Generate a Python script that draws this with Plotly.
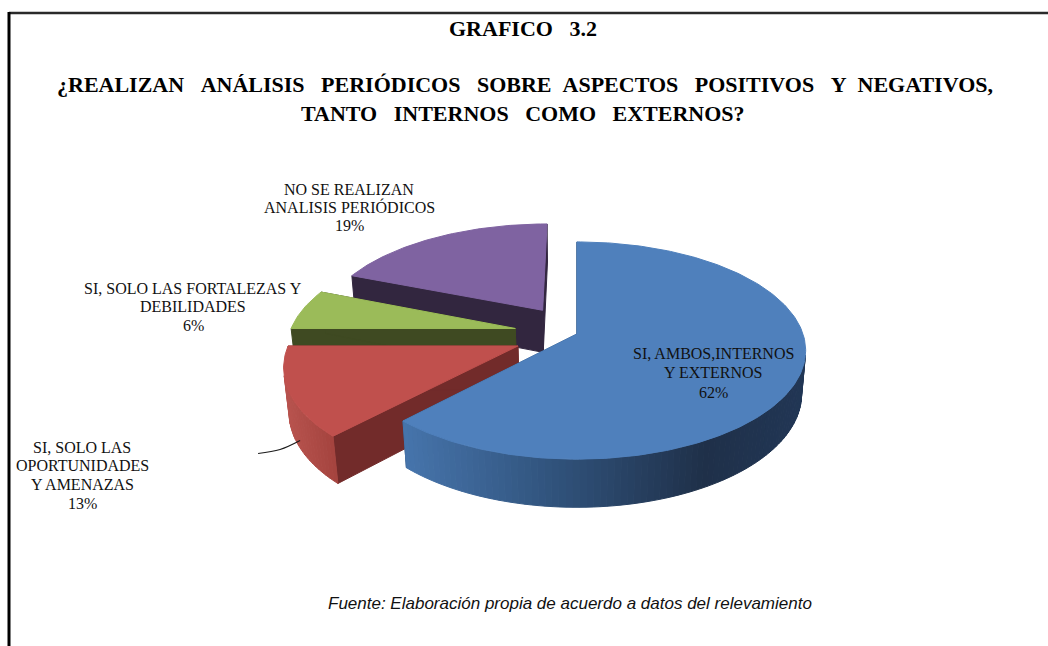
import numpy as np
import plotly.graph_objects as go

# ---------------- data ----------------
categories = ["SI, AMBOS,INTERNOS Y EXTERNOS",
              "SI, SOLO LAS OPORTUNIDADES Y AMENAZAS",
              "SI, SOLO LAS FORTALEZAS Y DEBILIDADES",
              "NO SE REALIZAN ANALISIS PERIÓDICOS"]
label_lines = [["SI, AMBOS,INTERNOS", "Y EXTERNOS"],
               ["SI, SOLO LAS", "OPORTUNIDADES", "Y AMENAZAS"],
               ["SI, SOLO LAS FORTALEZAS Y", "DEBILIDADES"],
               ["NO SE REALIZAN", "ANALISIS PERIÓDICOS"]]
values = [62, 13, 6, 19]

NB2 = "\u00a0\u00a0"
NB3 = "\u00a0\u00a0\u00a0"
title_text = "GRAFICO" + NB3 + "3.2"
question_1 = NB3.join(["¿REALIZAN", "ANÁLISIS", "PERIÓDICOS", "SOBRE" + NB2 + "ASPECTOS",
                       "POSITIVOS", "Y" + NB2 + "NEGATIVOS,"])
question_2 = NB3.join(["TANTO", "INTERNOS", "COMO", "EXTERNOS?"])
source_text = "Fuente: Elaboración propia de acuerdo a datos del relevamiento"

# ---------------- style ----------------
top_colors = ["#4f80bc", "#c0504d", "#9bbb59", "#7f63a1"]
radial_colors = ["#2c4a70", "#722b2a", "#3f4a22", "#32263f"]
wall_stops = [
    [(0.0, "#213655"), (0.25, "#1f3049"), (0.6, "#2f5078"), (1.0, "#4674ab")],
    [(0.0, "#a5443f"), (1.0, "#b8534e")],
    [(0.0, "#3f4a22"), (1.0, "#3f4a22")],
    [(0.0, "#32263f"), (1.0, "#32263f")],
]
explode = [0.0, 0.28, 0.28, 0.28]
label_pos = [(713, 353, 19.5), (82, 447, 18.8), (193, 288, 18.5), (349, 189, 18)]

PHI = np.radians(28)
DIST = 5.8
SCALE = 226
CX, CY = 577, 334
H = 0.22
SERIF = "Liberation Serif, Times New Roman, serif"


def proj(X, Y, Z):
    depth = DIST - Y * np.cos(PHI) - Z * np.sin(PHI)
    k = DIST / depth
    px = CX + SCALE * X * k
    py = CY - SCALE * (-Y * np.sin(PHI) + Z * np.cos(PHI)) * k
    return px, py


def hex2rgb(h):
    h = h.lstrip("#")
    return np.array([int(h[i:i + 2], 16) for i in (0, 2, 4)], dtype=float)


def lerp(stops, t):
    t = min(max(t, 0.0), 1.0)
    for (p0, c0), (p1, c1) in zip(stops[:-1], stops[1:]):
        if p0 <= t <= p1:
            f = 0 if p1 == p0 else (t - p0) / (p1 - p0)
            c = hex2rgb(c0) * (1 - f) + hex2rgb(c1) * f
            return "rgb(%d,%d,%d)" % tuple(c.round())
    c = hex2rgb(stops[-1][1])
    return "rgb(%d,%d,%d)" % tuple(c.round())


fig = go.Figure()


def poly(xs, ys, color):
    xs = list(xs) + [xs[0]]
    ys = list(ys) + [ys[0]]
    fig.add_trace(go.Scatter(x=xs, y=ys, mode="lines", fill="toself",
                             fillcolor=color, line=dict(color=color, width=1),
                             hoverinfo="skip", showlegend=False))


total = float(sum(values))
starts = np.concatenate([[0], np.cumsum(values)[:-1]]) / total * 360
ends = np.cumsum(values) / total * 360

geo = []
for i, v in enumerate(values):
    a0, a1 = np.radians(starts[i]), np.radians(ends[i])
    mid = (a0 + a1) / 2
    ox, oy = explode[i] * np.sin(mid), -explode[i] * np.cos(mid)
    geo.append((a0, a1, ox, oy))

draw_order = [3, 2, 1, 0]
for i in draw_order:
    a0, a1, ox, oy = geo[i]

    def rim(t, z):
        return proj(ox + np.sin(t), oy - np.cos(t), z)

    apx_t = proj(ox, oy, 0.0)
    apx_b = proj(ox, oy, -H)
    # radial faces
    for a in (a0, a1):
        rt = rim(a, 0.0)
        rb = rim(a, -H)
        poly([apx_t[0], rt[0], rb[0], apx_b[0]], [apx_t[1], rt[1], rb[1], apx_b[1]], radial_colors[i])
    # outer wall (front-facing segments only)
    n = max(int(np.degrees(a1 - a0) / 1.5), 2)
    ang = np.linspace(a0, a1, n + 1)
    segs = []
    for s0, s1 in zip(ang[:-1], ang[1:]):
        sm = (s0 + s1) / 2
        X, Y = ox + np.sin(sm), oy - np.cos(sm)
        dot = np.sin(sm) * (-X) + (-np.cos(sm)) * (DIST * np.cos(PHI) - Y)
        if dot > 0:
            segs.append((s0, s1))
    if segs:
        xs_all = [rim((s0 + s1) / 2, 0.0)[0] for s0, s1 in segs]
        xmin, xmax = min(xs_all), max(xs_all)
        for s0, s1 in segs:
            t0, t1 = rim(s0, 0.0), rim(s1, 0.0)
            b0, b1 = rim(s0, -H), rim(s1, -H)
            xm = rim((s0 + s1) / 2, 0.0)[0]
            tt = 0.5 if xmax == xmin else (xmax - xm) / (xmax - xmin)
            col = lerp(wall_stops[i], tt)
            poly([t0[0], t1[0], b1[0], b0[0]], [t0[1], t1[1], b1[1], b0[1]], col)
    # top face
    arc = np.linspace(a0, a1, max(int(np.degrees(a1 - a0)), 4) + 1)
    px, py = rim(arc, 0.0)
    poly([apx_t[0]] + list(px), [apx_t[1]] + list(py), top_colors[i])

# leader line for the 13% label
a0, a1, ox, oy = geo[1]
lx, ly = proj(ox + np.sin(np.radians(241)), oy - np.cos(np.radians(241)), -H * 0.8)
fig.add_trace(go.Scatter(x=[lx - 42, lx - 20, lx], y=[ly + 13, ly + 9, ly], mode="lines",
                         line=dict(color="#1a1a1a", width=1.2, shape="spline"),
                         hoverinfo="skip", showlegend=False))

# labels
annotations = []
for i, lines in enumerate(label_lines):
    x0, y0, dy = label_pos[i]
    all_lines = lines + [f"{values[i]}%"]
    for j, txt in enumerate(all_lines):
        annotations.append(dict(x=x0, y=y0 + j * dy, xref="x", yref="y", text=txt,
                                showarrow=False, xanchor="center", yanchor="middle",
                                font=dict(family=SERIF, size=16, color="#111111")))

annotations.append(dict(x=523, y=28, xref="x", yref="y", text="<b>" + title_text + "</b>",
                        showarrow=False, font=dict(family=SERIF, size=22, color="#000")))
annotations.append(dict(x=525, y=84, xref="x", yref="y", text="<b>" + question_1 + "</b>",
                        showarrow=False, font=dict(family=SERIF, size=22, color="#000")))
annotations.append(dict(x=523, y=113, xref="x", yref="y", text="<b>" + question_2 + "</b>",
                        showarrow=False, font=dict(family=SERIF, size=22, color="#000")))
annotations.append(dict(x=570, y=603, xref="x", yref="y", text="<i>" + source_text + "</i>",
                        showarrow=False, font=dict(family="Liberation Sans, Arial, sans-serif", size=17, color="#111")))

shapes = [
    dict(type="line", xref="paper", yref="paper", x0=9 / 1048, x1=1.0, y0=1 - 13 / 646, y1=1 - 13 / 646,
         line=dict(color="#2a2a2a", width=2.5)),
    dict(type="line", xref="paper", yref="paper", x0=9 / 1048, x1=9 / 1048, y0=1 - 12 / 646, y1=0,
         line=dict(color="#000000", width=3)),
]

fig.update_layout(
    width=1048, height=646, autosize=False,
    margin=dict(l=0, r=0, t=0, b=0),
    paper_bgcolor="white", plot_bgcolor="white",
    xaxis=dict(range=[0, 1048], visible=False, fixedrange=True),
    yaxis=dict(range=[646, 0], visible=False, fixedrange=True),
    annotations=annotations, shapes=shapes, showlegend=False,
)

fig.write_html("out.html", config={"displayModeBar": False},
               post_script="document.body.style.margin='0';document.body.style.overflow='hidden';")
